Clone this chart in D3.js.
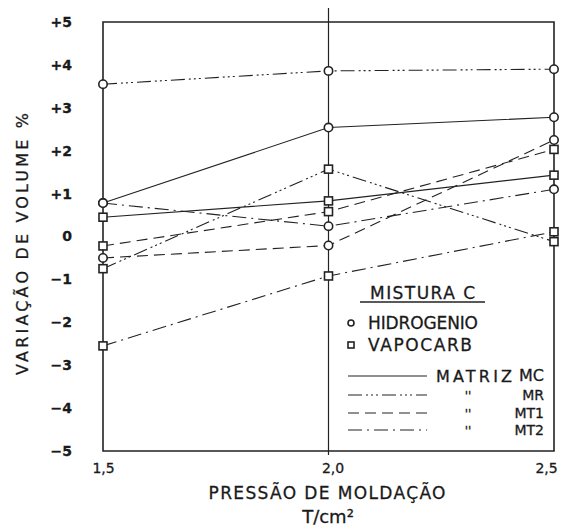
<html>

<head>
    <style>
        body { margin: 0; background: #fff; }
        text { font-family: "DejaVu Sans", sans-serif; fill: #1a1a1a; stroke: #1a1a1a; stroke-width: 0.3px; }
    </style>
</head>

<body>
    <svg id="chart"></svg>
</body>
<script src="https://cdnjs.cloudflare.com/ajax/libs/d3/7.8.5/d3.min.js"></script>
<script>
    // pressao de moldacao (T/cm2)
    const pressao = [1.5, 2.0, 2.5];
    const yTicks = [-5, -4, -3, -2, -1, 0, 1, 2, 3, 4, 5];

    // variacao de volume (%)
    const mcHidrogenio = [0.78, 2.54, 2.78];
    const mcVapocarb = [0.45, 0.83, 1.43];
    const mrHidrogenio = [3.55, 3.86, 3.9];
    const mrVapocarb = [-0.75, 1.57, -0.12];
    const mt1Hidrogenio = [-0.5, -0.21, 2.25];
    const mt1Vapocarb = [-0.22, 0.58, 2.03];
    const mt2Hidrogenio = [0.78, 0.24, 1.1];
    const mt2Vapocarb = [-2.55, -0.92, 0.11];

    const matrizes = ["MC", "MR", "MT1", "MT2"];

    const width = 561,
        height = 526;

    const svg = d3.select('#chart')
        .attr('width', width)
        .attr('height', height);

    const x = d3.scaleLinear().domain([1.5, 2.5]).range([103, 554]);
    const y = d3.scaleLinear().domain([-5, 5]).range([451, 22]);

    const dashes = {
        MC: null,
        MR: "14 4 2 3 2 3 2 4",
        MT1: "11 6",
        MT2: "14 5 2 5"
    };

    const series = [
        { m: "MC", gas: "H", v: mcHidrogenio },
        { m: "MC", gas: "V", v: mcVapocarb },
        { m: "MR", gas: "H", v: mrHidrogenio },
        { m: "MR", gas: "V", v: mrVapocarb },
        { m: "MT1", gas: "H", v: mt1Hidrogenio },
        { m: "MT1", gas: "V", v: mt1Vapocarb },
        { m: "MT2", gas: "H", v: mt2Hidrogenio },
        { m: "MT2", gas: "V", v: mt2Vapocarb }
    ];

    // frame
    svg.append("path")
        .attr("d", `M${x(1.5)},${y(-5)} V${y(5)} H${x(2.5)} V${y(-5)} Z`)
        .attr("fill", "none")
        .attr("stroke", "#222")
        .attr("stroke-width", 1.6);

    // vertical line at 2,0
    svg.append("line")
        .attr("x1", x(2.0)).attr("x2", x(2.0))
        .attr("y1", 8).attr("y2", y(-5) + 4)
        .attr("stroke", "#222")
        .attr("stroke-width", 1.2);

    // y axis labels
    const yAxis = d3.axisLeft(y)
        .tickValues(yTicks)
        .tickSize(0)
        .tickPadding(31)
        .tickFormat(d => d > 0 ? "+" + d : (d < 0 ? "\u2212" + Math.abs(d) : "0"));
    const gy = svg.append("g")
        .attr("transform", `translate(${x(1.5)},0)`)
        .call(yAxis);
    gy.select(".domain").remove();
    gy.selectAll("text")
        .style("font-size", "14px")
        .style("font-weight", "bold")
        .attr("dy", "0.32em");

    // x axis labels
    const xAxis = d3.axisBottom(x)
        .tickValues(pressao)
        .tickSize(0)
        .tickPadding(12)
        .tickFormat(d => d3.format(".1f")(d).replace(".", ","));
    const gx = svg.append("g")
        .attr("transform", `translate(0,${y(-5)})`)
        .call(xAxis);
    gx.select(".domain").remove();
    gx.selectAll("text")
        .style("font-size", "14px")
        .attr("dx", (d, i) => [0, 4, -8][i]);

    // lines
    const line = d3.line()
        .x((d, i) => x(pressao[i]))
        .y(d => y(d));

    svg.append("g")
        .selectAll("path")
        .data(series)
        .enter().append("path")
        .attr("d", d => line(d.v))
        .attr("fill", "none")
        .attr("stroke", "#222")
        .attr("stroke-width", 1.1)
        .attr("stroke-dasharray", d => dashes[d.m]);

    // markers
    const pts = series.flatMap(s => s.v.map((v, i) => ({ gas: s.gas, px: pressao[i], v: v })));
    const mk = svg.append("g");
    mk.selectAll("circle")
        .data(pts.filter(p => p.gas === "H"))
        .enter().append("circle")
        .attr("cx", d => x(d.px))
        .attr("cy", d => y(d.v))
        .attr("r", 4.2)
        .attr("fill", "#fff")
        .attr("stroke", "#222")
        .attr("stroke-width", 1.6);
    mk.selectAll("rect")
        .data(pts.filter(p => p.gas === "V"))
        .enter().append("rect")
        .attr("x", d => x(d.px) - 4)
        .attr("y", d => y(d.v) - 4)
        .attr("width", 8)
        .attr("height", 8)
        .attr("fill", "#fff")
        .attr("stroke", "#222")
        .attr("stroke-width", 1.6);

    // axis titles
    svg.append("text")
        .attr("transform", "translate(28,244) rotate(-90)")
        .attr("text-anchor", "middle")
        .attr("textLength", 262)
        .attr("lengthAdjust", "spacing")
        .style("font-size", "16px")
        .text("VARIAÇÃO  DE  VOLUME  %");

    svg.append("text")
        .attr("x", 327).attr("y", 499)
        .attr("text-anchor", "middle")
        .attr("textLength", 237)
        .attr("lengthAdjust", "spacing")
        .style("font-size", "17px")
        .text("PRESSÃO DE MOLDAÇÃO");

    svg.append("text")
        .attr("x", 328).attr("y", 523)
        .attr("text-anchor", "middle")
        .style("font-size", "18px")
        .text("T/cm²");

    // legend
    const lg = svg.append("g");
    lg.append("text")
        .attr("x", 370).attr("y", 299)
        .attr("textLength", 105)
        .attr("lengthAdjust", "spacing")
        .style("font-size", "17px")
        .text("MISTURA C");
    lg.append("line")
        .attr("x1", 360).attr("x2", 485)
        .attr("y1", 302).attr("y2", 302)
        .attr("stroke", "#222").attr("stroke-width", 1.6);

    lg.append("circle")
        .attr("cx", 351).attr("cy", 323).attr("r", 3)
        .attr("fill", "#fff").attr("stroke", "#222").attr("stroke-width", 1.6);
    lg.append("text")
        .attr("x", 368).attr("y", 329)
        .attr("textLength", 110)
        .attr("lengthAdjust", "spacing")
        .style("font-size", "17px")
        .text("HIDROGENIO");
    lg.append("rect")
        .attr("x", 348).attr("y", 342).attr("width", 6).attr("height", 6)
        .attr("fill", "#fff").attr("stroke", "#222").attr("stroke-width", 1.6);
    lg.append("text")
        .attr("x", 368).attr("y", 351)
        .attr("textLength", 104)
        .attr("lengthAdjust", "spacing")
        .style("font-size", "17px")
        .text("VAPOCARB");

    const lgY = [376, 395, 413, 430];
    matrizes.forEach((m, i) => {
        lg.append("line")
            .attr("x1", 348).attr("x2", 427)
            .attr("y1", lgY[i]).attr("y2", lgY[i])
            .attr("stroke", "#222").attr("stroke-width", 1.2)
            .attr("stroke-dasharray", dashes[m]);
        if (i > 0) {
            lg.append("text")
                .attr("x", 468).attr("y", lgY[i] + 5)
                .attr("text-anchor", "middle")
                .style("font-size", "12px")
                .text("''");
        }
        lg.append("text")
            .attr("x", 544).attr("y", lgY[i] + 5)
            .attr("text-anchor", "end")
            .style("font-size", i === 0 ? "16px" : "14px")
            .text(m);
    });
    lg.append("text")
        .attr("x", 436).attr("y", lgY[0] + 6)
        .attr("textLength", 76)
        .attr("lengthAdjust", "spacing")
        .style("font-size", "16px")
        .text("MATRIZ");
</script>

</html>
